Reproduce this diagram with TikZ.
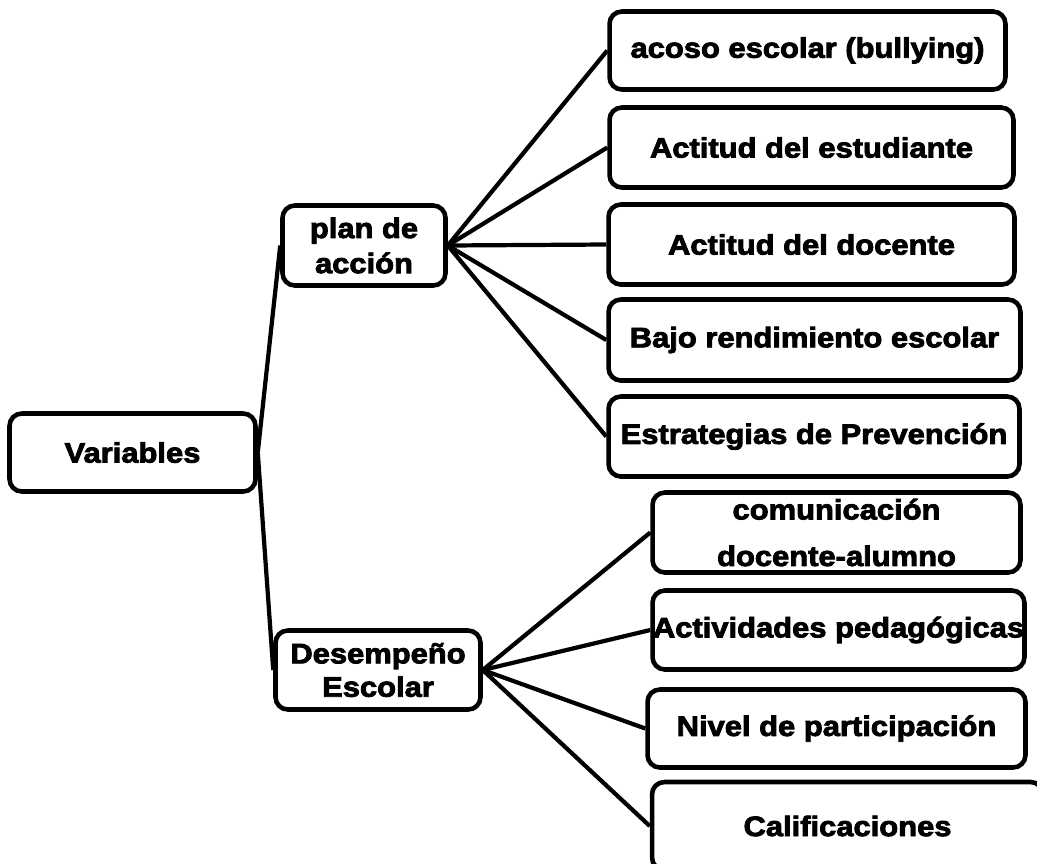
\documentclass[tikz,border=0pt]{standalone}
\usepackage{fontspec}
\setmainfont{Liberation Sans}[BoldFeatures={FakeBold=3,FakeStretch=1.1}]
\tikzset{
  box/.style={draw, line width=2.6pt, rounded corners=7pt, inner sep=0pt,
    align=center, font=\bfseries\fontsize{16}{20}\selectfont},
  link/.style={line width=2.4pt}
}
\begin{document}
\begin{tikzpicture}[x=0.02cm, y=-0.02cm]
		\useasboundingbox (0,0) rectangle (1037,863);
		\clip (0,0) rectangle (1037,863);
		
		% Left side
		\node[box, minimum width=4.92cm, minimum height=1.56cm] (var) at (132.5, 452.5) {Variables};
		\node[box, minimum width=3.26cm, minimum height=1.6cm] (plan) at (364, 245.5) {plan de\\acción};
		\node[box, minimum width=4.1cm, minimum height=1.58cm, font=\bfseries\fontsize{16}{19}\selectfont] (des) at (378, 670) {Desempeño\\Escolar};
		
		% Upper group
		\node[box, minimum width=7.92cm, minimum height=1.56cm] (acoso) at (807.5, 50.5) {acoso escolar (bullying)};
		\node[box, minimum width=8.08cm, minimum height=1.6cm] (estud) at (811.5, 147.5) {Actitud del estudiante};
		\node[box, minimum width=8.12cm, minimum height=1.6cm] (docen) at (811.5, 244.5) {Actitud del docente};
		\node[box, minimum width=8.24cm, minimum height=1.62cm] (bajo) at (814.5, 340) {Bajo rendimiento escolar};
		\node[box, minimum width=8.22cm, minimum height=1.6cm] (estra) at (814, 436.5) {Estrategias de Prevención};
		
		% Lower group
		\node[box, minimum width=7.36cm, minimum height=1.6cm, font=\bfseries\fontsize{16}{26.5}\selectfont] (comun) at (836.5, 532.5) {comunicación\\docente-alumno};
		\node[box, minimum width=7.44cm, minimum height=1.58cm] (activ) at (838.5, 630) {Actividades pedagógicas};
		\node[box, minimum width=7.56cm, minimum height=1.56cm] (nivel) at (836.5, 728.5) {Nivel de participación};
		\node[box, minimum width=7.82cm, minimum height=1.76cm] (calif) at (847.5, 826) {Calificaciones};
		
		% Connectors
		\draw[link] (var.east) -- (plan.west);
		\draw[link] (var.east) -- (des.west);
		\foreach \t in {acoso, estud, docen, bajo, estra}
		  \draw[link] (plan.east) -- (\t.west);
		\foreach \t in {comun, activ, nivel, calif}
		  \draw[link] (des.east) -- (\t.west);
		
\end{tikzpicture}
\end{document}
